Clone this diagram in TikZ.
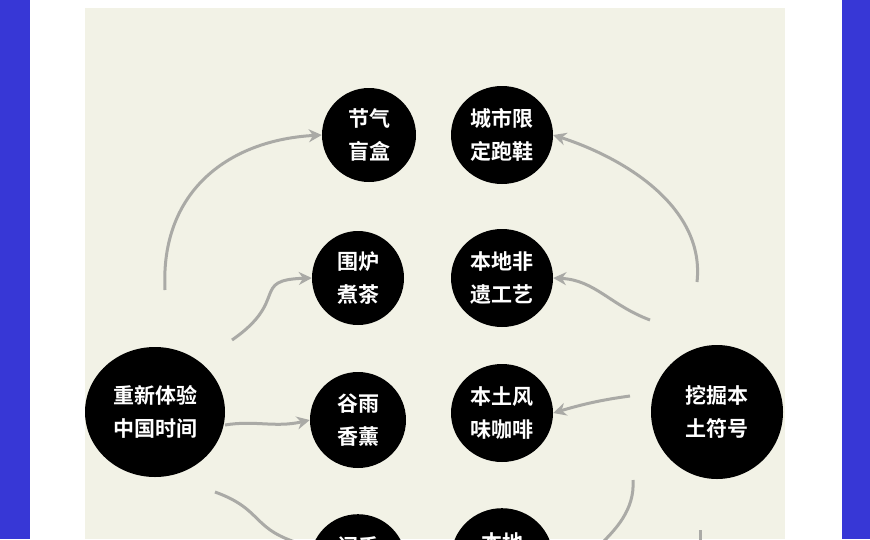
\documentclass[tikz,border=0pt]{standalone}
\usepackage{fontspec}
\newfontfamily\cjk{Noto Sans CJK SC Bold}
\usetikzlibrary{arrows.meta}
\definecolor{bgblue}{HTML}{3737D6}
\definecolor{beige}{HTML}{F2F2E6}
\definecolor{arr}{HTML}{AAAAA6}
\tikzset{
 bub/.style={fill=black,ellipse,inner sep=0pt,text=white,font=\cjk\fontsize{21}{33}\selectfont,align=center},
 con/.style={draw=arr,line width=3pt,-{Stealth[length=13pt,width=13pt]}},
 conn/.style={draw=arr,line width=3pt}
}
\usetikzlibrary{shapes.geometric}
\begin{document}
\begin{tikzpicture}[x=1pt,y=-1pt]
\useasboundingbox (0,0) rectangle (870,539);
\fill[bgblue] (0,0) rectangle (870,539);
\fill[white] (30,0) rectangle (842,539);
\fill[beige] (85,8) rectangle (785,539);
\begin{scope}
\clip (85,8) rectangle (785,539);
\node[bub,minimum width=94pt,minimum height=94pt] (jq) at (369,135) {节气\\盲盒};
\node[bub,minimum width=102pt,minimum height=98pt] (cs) at (502,135) {城市限\\定跑鞋};
\node[bub,minimum width=92pt,minimum height=94pt] (wl) at (358,278) {围炉\\煮茶};
\node[bub,minimum width=102pt,minimum height=98pt] (fy) at (502,278) {本地非\\遗工艺};
\node[bub,minimum width=140pt,minimum height=130pt] (cx) at (155,412) {重新体验\\中国时间};
\node[bub,minimum width=96pt,minimum height=96pt] (gy) at (358,420) {谷雨\\香薰};
\node[bub,minimum width=102pt,minimum height=98pt] (kf) at (502,413) {本土风\\味咖啡};
\node[bub,minimum width=132pt,minimum height=134pt] (wj) at (717,412) {挖掘本\\土符号};
\node[bub,minimum width=96pt,minimum height=96pt,anchor=north] (b1) at (358,514) {闲手\\ };
\node[bub,minimum width=102pt,minimum height=100pt,anchor=north] (b2) at (502,508) {本地\\ };
\coordinate (s1) at (165,290);
\coordinate (s2) at (232,340);
\coordinate (s3) at (225,425);
\coordinate (s4) at (215,492);
\coordinate (e4) at (305,545);
\coordinate (s5) at (697,282);
\coordinate (s6) at (650,320);
\coordinate (s7) at (630,396);
\coordinate (s8) at (633,480);
\coordinate (e8) at (600,545);
\coordinate (s9) at (700,530);
\coordinate (e9) at (700,545);
\draw[con] (s1) .. controls (160,190) and (230,140) .. (jq.west);
\draw[con] (s2) .. controls (290,300) and (250,280) .. (wl.west);
\draw[con] (s3) .. controls (255,420) and (275,428) .. (gy.west);
\draw[conn] (s4) .. controls (265,510) and (250,530) .. (e4);
\draw[con] (s5) .. controls (705,210) and (630,160) .. (cs.east);
\draw[con] (s6) .. controls (610,305) and (595,280) .. (fy.east);
\draw[con] (s7) .. controls (600,400) and (580,405) .. (kf.east);
\draw[conn] (s8) .. controls (635,510) and (615,530) .. (e8);
\draw[conn] (s9) -- (e9);
\end{scope}
\end{tikzpicture}
\end{document}
